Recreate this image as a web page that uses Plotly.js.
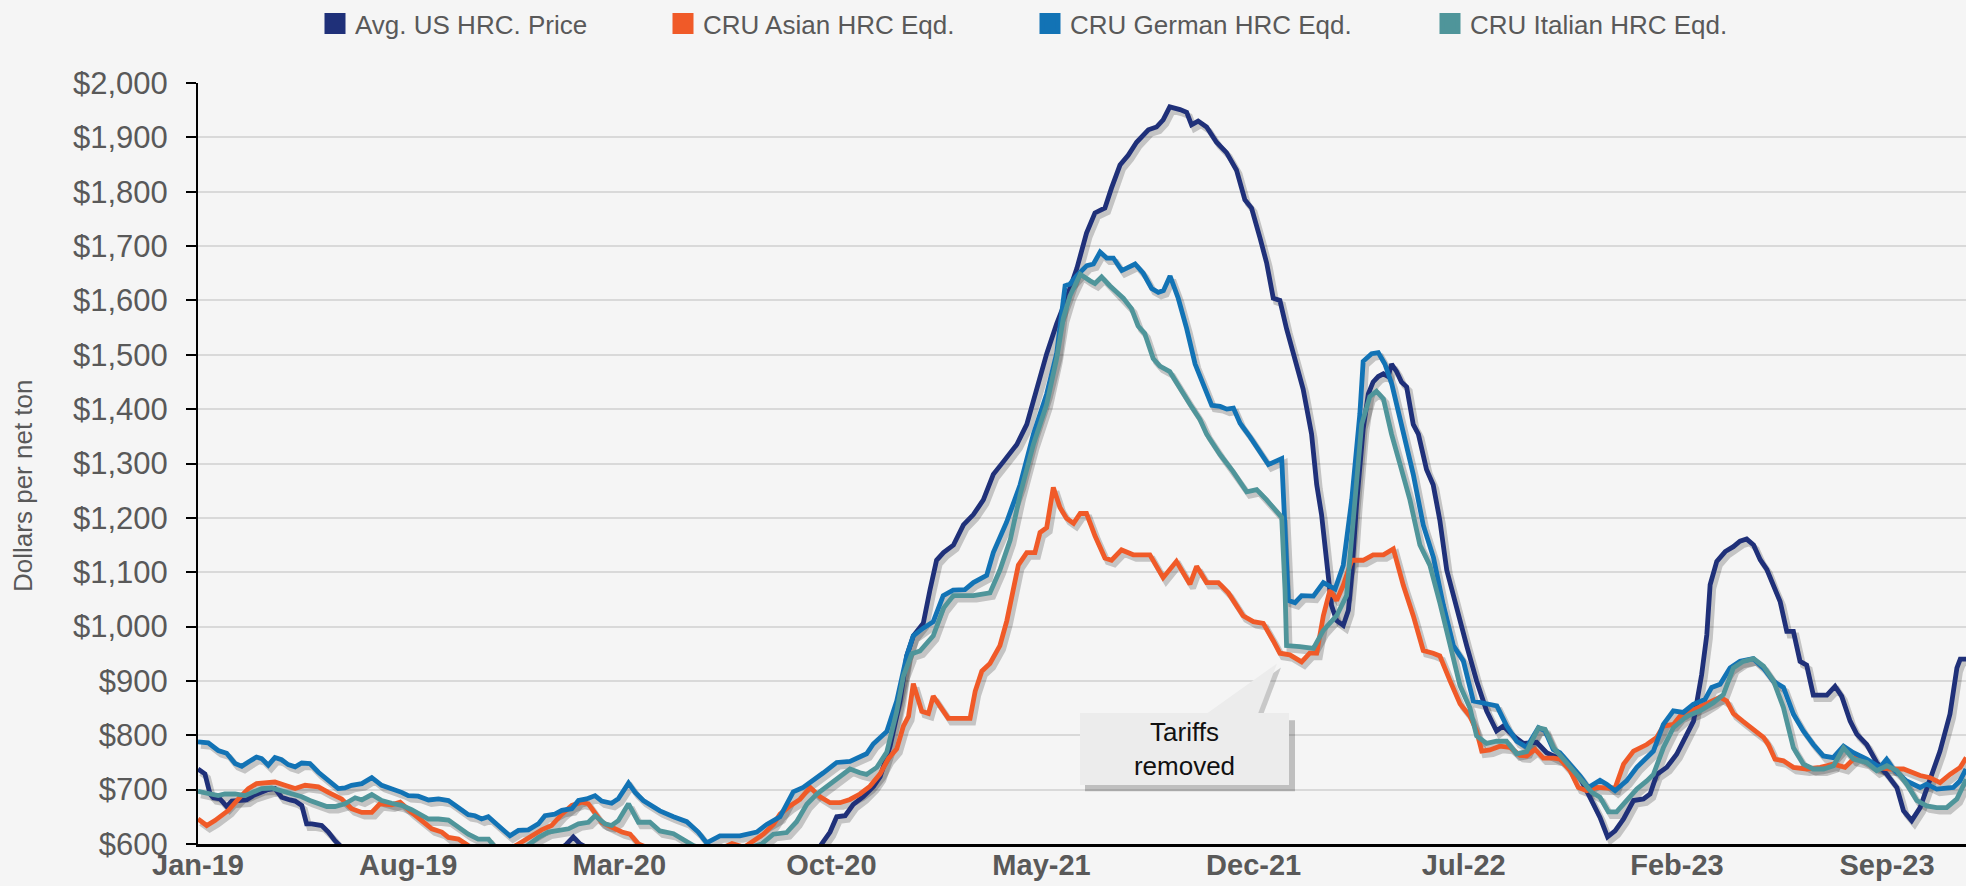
<!DOCTYPE html>
<html>
<head>
<meta charset="utf-8">
<script src="https://cdn.plot.ly/plotly-3.0.1.min.js"></script>
<style>
html,body{margin:0;padding:0;background:#f5f5f5;}
#chart{width:1966px;height:886px;}
</style>
</head>
<body>
<div id="chart"></div>
<script>
// ---------------- DATA (x = months since Jan-2019, y = $ per net ton) ----------------
const seriesNames = ["Avg. US HRC. Price", "CRU Asian HRC Eqd.", "CRU German HRC Eqd.", "CRU Italian HRC Eqd."];
const seriesColors = ["#1f3079", "#f05a28", "#1273b5", "#4f959a"];

const tickDates  = ["2019-01-01","2019-08-01","2020-03-01","2020-10-01","2021-05-01","2021-12-01","2022-07-01","2023-02-01","2023-09-01"];
const tickLabels = ["Jan-19","Aug-19","Mar-20","Oct-20","May-21","Dec-21","Jul-22","Feb-23","Sep-23"];

const usMonths = [0,0.23,0.40,0.51,0.73,0.95,1.12,1.39,1.61,1.83,2.11,2.33,2.55,2.77,3.05,3.22,3.44,3.60,3.77,4.10,4.32,4.54,4.76,5.2,5.8,6.5,7.5,8.5,9.5,10.5,11.2,11.8,12.22,12.44,12.66,13.2,14,15,16,17,18,19,20,20.62,20.95,21.17,21.45,21.72,22.05,22.39,22.61,22.94,23.27,23.49,23.71,24.04,24.26,24.48,24.71,25.04,25.37,25.70,26.03,26.36,26.69,27.14,27.47,27.80,28.13,28.46,28.79,29.13,29.45,29.73,30.06,30.28,30.56,30.83,31.11,31.50,31.77,31.99,32.21,32.55,32.77,32.93,33.15,33.43,33.76,34.09,34.42,34.70,34.92,35.20,35.42,35.64,35.86,36.08,36.36,36.63,36.91,37.08,37.24,37.41,37.57,37.74,37.96,38.13,38.24,38.40,38.62,38.79,38.95,39.12,39.29,39.45,39.56,39.73,39.89,40.06,40.28,40.45,40.72,40.94,41.16,41.39,41.72,42.05,42.38,42.71,43.04,43.26,43.60,43.93,44.37,44.70,45.15,45.48,45.81,46.14,46.47,46.72,46.97,47.25,47.58,47.91,48.13,48.35,48.68,49.01,49.35,49.57,49.84,50.01,50.12,50.34,50.62,50.89,51.11,51.33,51.56,51.78,52.00,52.22,52.44,52.66,52.88,53.10,53.32,53.54,53.77,53.99,54.26,54.48,54.76,54.98,55.31,55.64,55.98,56.31,56.53,56.80,57.08,57.41,57.74,58.07,58.30,58.41,58.61];
const usPrice = [738,729,692,685,683,669,679,681,681,689,695,700,702,686,681,679,671,637,637,634,622,606,594,575,555,540,525,510,505,510,545,580,600,613,600,585,565,535,495,470,455,470,530,596,622,650,652,673,687,706,724,780,863,946,983,1006,1067,1122,1136,1150,1187,1206,1233,1280,1303,1335,1372,1437,1502,1557,1604,1659,1724,1761,1770,1807,1849,1867,1891,1914,1919,1932,1956,1951,1946,1923,1930,1919,1891,1872,1840,1785,1770,1715,1669,1604,1600,1548,1493,1437,1354,1261,1206,1122,1039,1011,1002,1030,1094,1224,1363,1428,1450,1460,1465,1460,1483,1469,1450,1441,1372,1354,1289,1261,1196,1104,1030,965,900,845,808,817,799,785,787,768,756,744,722,686,649,613,624,646,680,683,692,728,741,765,805,826,912,985,1077,1120,1138,1147,1157,1161,1150,1123,1105,1074,1046,991,991,936,929,874,873,874,890,872,826,802,783,750,728,704,661,643,667,716,771,839,924,940,940];

const asiaMonths = [0,0.29,0.56,1.01,1.34,1.67,1.94,2.22,2.55,2.88,3.22,3.55,3.99,4.32,4.76,5.09,5.43,5.76,6.03,6.42,6.70,7.08,7.42,7.75,8.08,8.30,8.63,8.96,9.4,10.0,10.62,10.95,11.39,11.72,12.06,12.39,12.72,12.94,13.16,13.38,13.71,14.05,14.32,14.60,15.5,16.5,17.2,17.7,18.1,18.74,19.07,19.29,19.62,19.95,20.29,20.62,20.95,21.28,21.61,21.94,22.27,22.61,22.88,23.16,23.38,23.55,23.71,23.99,24.21,24.37,24.65,24.87,25.26,25.59,25.76,25.98,26.25,26.58,26.81,27.03,27.19,27.47,27.74,27.91,28.13,28.35,28.57,28.79,29.02,29.24,29.45,29.73,30.06,30.28,30.61,31.00,31.55,31.99,32.43,32.88,33.10,33.43,33.82,34.15,34.64,34.98,35.31,35.64,35.86,36.19,36.58,36.85,37.08,37.30,37.52,37.74,37.96,38.24,38.62,38.95,39.29,39.62,39.95,40.28,40.61,40.94,41.16,41.50,41.83,42.16,42.38,42.55,42.82,43.15,43.48,43.82,44.04,44.32,44.59,44.93,45.15,45.48,45.75,46.03,46.36,46.69,46.97,47.25,47.58,48.02,48.35,48.57,48.90,49.12,49.57,50.01,50.45,50.67,50.89,51.22,51.56,51.89,52.05,52.27,52.55,52.88,53.32,53.77,54.21,54.59,54.98,55.31,55.64,56.09,56.53,57.08,57.41,57.74,58.07,58.41,58.61];
const asiaPrice = [646,634,643,662,683,702,711,712,714,708,702,708,705,695,683,665,658,658,674,672,677,658,643,628,622,612,609,597,585,580,600,612,626,634,655,671,677,674,655,640,631,622,618,600,580,570,588,601,594,618,636,655,670,682,704,687,676,676,682,692,706,729,757,775,817,835,895,844,840,872,849,831,831,831,881,918,932,965,1011,1076,1113,1136,1136,1173,1182,1256,1219,1199,1190,1208,1208,1167,1126,1122,1141,1132,1132,1090,1120,1078,1111,1081,1081,1062,1020,1009,1006,974,951,948,935,951,951,1020,1067,1048,1076,1122,1122,1132,1132,1143,1076,1020,956,951,946,900,858,835,808,771,773,780,778,763,762,774,758,758,756,735,704,698,704,703,703,747,771,783,796,817,820,835,847,860,870,863,840,825,810,796,783,756,753,741,738,741,747,741,762,753,741,738,738,726,722,713,728,741,759];

const germanMonths = [0,0.34,0.67,0.95,1.23,1.45,1.67,1.94,2.11,2.33,2.55,2.77,2.99,3.22,3.44,3.71,3.99,4.32,4.65,4.87,5.09,5.43,5.76,6.09,6.42,6.75,6.97,7.30,7.64,7.97,8.30,8.63,8.96,9.18,9.40,9.62,9.85,10.07,10.34,10.62,10.95,11.28,11.50,11.83,12.06,12.39,12.61,12.88,13.16,13.38,13.71,13.93,14.27,14.49,14.76,14.98,15.31,15.76,16.20,16.58,16.86,17.30,17.96,18.52,18.85,19.29,19.73,20.06,20.40,20.73,21.17,21.61,22.16,22.38,22.83,23.16,23.49,23.71,24.04,24.37,24.70,25.03,25.42,25.70,26.14,26.36,26.80,27.25,27.69,28.13,28.46,28.74,28.90,29.12,29.46,29.68,29.90,30.12,30.34,30.62,31.06,31.33,31.61,31.83,32.00,32.22,32.49,32.77,33.05,33.32,33.60,33.88,34.10,34.32,34.54,34.87,35.20,35.48,35.92,36.03,36.14,36.36,36.58,36.97,37.30,37.69,37.96,38.24,38.51,38.62,38.90,39.12,39.34,39.57,39.90,40.28,40.61,40.95,41.28,41.61,41.94,42.27,42.71,43.05,43.38,43.71,44.04,44.43,44.65,44.92,45.14,45.48,45.81,46.08,46.47,46.69,46.97,47.35,47.69,48.24,48.57,48.90,49.23,49.56,49.95,50.17,50.45,50.78,51.11,51.55,51.88,52.21,52.55,52.88,53.21,53.54,53.87,54.20,54.54,54.87,55.31,55.75,55.97,56.19,56.63,57.08,57.30,57.63,58.18,58.40,58.60];
const germanPrice = [788,786,772,767,748,743,751,760,757,745,759,755,746,742,749,748,732,717,702,703,708,711,722,708,702,695,689,688,681,683,680,668,654,652,646,650,640,628,615,625,626,637,652,655,662,665,680,683,689,679,675,683,712,695,680,672,661,650,641,622,602,615,615,622,636,650,696,704,719,731,750,752,766,784,807,863,946,983,997,1009,1057,1067,1068,1081,1094,1136,1192,1261,1354,1428,1502,1627,1630,1645,1664,1667,1689,1678,1678,1655,1667,1650,1622,1615,1618,1645,1604,1548,1483,1446,1407,1405,1400,1402,1374,1349,1321,1298,1309,1159,1048,1044,1057,1056,1081,1069,1113,1233,1391,1488,1502,1504,1483,1446,1372,1280,1187,1127,1039,965,937,863,858,854,817,789,778,814,808,774,768,747,725,704,717,710,698,716,741,771,820,845,842,857,866,888,894,924,936,941,924,900,888,839,808,783,762,759,780,768,756,741,756,738,716,704,710,701,704,716,738];

const italyMonths = [0,0.34,0.67,0.89,1.23,1.56,1.83,2.11,2.44,2.77,3.10,3.44,3.71,3.99,4.27,4.54,4.87,5.21,5.43,5.76,6.09,6.42,6.75,7.08,7.42,7.64,7.97,8.30,8.63,8.96,9.29,9.63,9.85,10.3,10.8,11.28,11.61,11.94,12.28,12.61,12.94,13.16,13.49,13.71,13.93,14.27,14.60,14.98,15.31,15.76,16.20,16.42,16.8,17.5,18.2,18.68,19.07,19.51,19.84,20.18,20.51,20.84,21.28,21.61,21.94,22.16,22.50,22.83,23.16,23.38,23.66,23.93,24.37,24.71,25.04,25.42,25.70,26.25,26.58,26.92,27.25,27.69,28.13,28.46,28.68,28.90,29.24,29.57,29.73,29.95,30.22,30.67,30.94,31.16,31.38,31.66,31.88,32.21,32.55,32.88,33.21,33.43,33.87,34.31,34.76,35.09,35.42,35.92,36.03,36.08,36.52,36.97,37.30,37.74,38.07,38.29,38.57,38.84,39.06,39.29,39.56,39.84,40.17,40.50,40.83,41.16,41.50,41.83,42.16,42.38,42.71,43.04,43.37,43.71,44.04,44.43,44.65,44.93,45.26,45.59,45.92,46.20,46.47,46.75,47.02,47.36,47.69,48.02,48.24,48.57,48.90,49.35,49.79,50.23,50.56,50.89,51.22,51.56,51.89,52.22,52.55,52.88,53.21,53.54,53.88,54.21,54.54,54.87,55.31,55.64,55.98,56.31,56.64,56.97,57.30,57.63,57.96,58.30,58.61];
const italyPrice = [697,694,689,692,692,689,695,702,703,698,692,687,680,674,669,669,674,685,681,691,680,675,671,663,654,646,646,644,631,618,609,609,594,585,592,612,622,625,628,637,640,652,637,634,643,674,640,640,624,619,606,597,590,585,592,600,618,621,641,673,692,706,724,738,731,728,741,769,844,909,950,955,983,1034,1057,1056,1057,1062,1104,1159,1243,1335,1409,1493,1567,1608,1648,1636,1631,1643,1627,1604,1585,1553,1539,1493,1479,1469,1437,1409,1381,1354,1317,1285,1248,1252,1233,1201,1067,965,963,960,993,1020,1057,1206,1372,1423,1433,1419,1354,1299,1233,1150,1113,1044,965,891,850,799,785,789,789,766,770,814,811,777,756,735,716,695,686,659,659,680,701,716,728,777,814,835,845,860,875,924,936,941,927,900,851,777,747,738,738,744,777,756,750,735,744,735,710,680,670,667,667,683,719];

const annotationText = "Tariffs<br>removed";
const yTitleText = "Dollars per net ton";

// ---------------- helpers ----------------
const W = 1966, H = 886;
const M = {l: 198, r: 0, t: 81, b: 42};
const plotW = W - M.l - M.r, plotH = H - M.t - M.b;
const T0 = Date.UTC(2019, 0, 1);
const MONTH_MS = 30.4375 * 86400000;
const X_END = Date.UTC(2023, 10, 19, 16);
const Y_MIN = 600, Y_MAX = 2000;

function pad(n){ return String(n).padStart(2, '0'); }
function ms2str(ms){
  const d = new Date(ms);
  return d.getUTCFullYear() + '-' + pad(d.getUTCMonth()+1) + '-' + pad(d.getUTCDate()) + ' ' +
         pad(d.getUTCHours()) + ':' + pad(d.getUTCMinutes()) + ':' + pad(d.getUTCSeconds());
}
function monthsToDates(arr){ return arr.map(m => ms2str(T0 + m * MONTH_MS)); }
function px2x(px){ return (px - M.l) / plotW; }
function py2y(py){ return (M.t + plotH - py) / plotH; }

// shadow offset (pixels) applied through a shifted, hidden axis pair
const SH_DX = 3, SH_DY = 4;
const msPerPx = (X_END - T0) / plotW;
const valPerPx = (Y_MAX - Y_MIN) / plotH;

const series = [
  {x: usMonths, y: usPrice},
  {x: asiaMonths, y: asiaPrice},
  {x: germanMonths, y: germanPrice},
  {x: italyMonths, y: italyPrice}
];

const FONT = 'Arial, "Liberation Sans", Helvetica, sans-serif';
const traces = [];
// shadows (bottom subplot, hidden shifted axes)
series.forEach((s, i) => {
  traces.push({
    type: 'scatter', mode: 'lines', x: monthsToDates(s.x), y: s.y,
    xaxis: 'x', yaxis: 'y', showlegend: false, hoverinfo: 'skip',
    line: {color: 'rgba(0,0,0,0.20)', width: 6}
  });
});
// real lines (overlay subplot with visible axes)
series.forEach((s, i) => {
  traces.push({
    type: 'scatter', mode: 'lines', x: monthsToDates(s.x), y: s.y,
    xaxis: 'x2', yaxis: 'y2', name: seriesNames[i], showlegend: false,
    line: {color: seriesColors[i], width: 4.8}
  });
});
// legend entries
const legendKeys = ['legend', 'legend2', 'legend3', 'legend4'];
seriesNames.forEach((n, i) => {
  traces.push({
    type: 'scatter', mode: 'markers', x: [null], y: [null], xaxis: 'x2', yaxis: 'y2',
    name: n, legend: legendKeys[i], showlegend: true,
    marker: {symbol: 'square', size: 16, color: seriesColors[i], line: {color: seriesColors[i], width: 5}}
  });
});

const legendTextLeft = [355, 703, 1070, 1470];
function legendCfg(i){
  return {
    x: px2x(legendTextLeft[i] - 40), xanchor: 'left', y: py2y(21), yanchor: 'middle',
    orientation: 'h', bgcolor: 'rgba(0,0,0,0)', borderwidth: 0,
    font: {family: FONT, size: 26, color: '#595959'}
  };
}

const layout = {
  width: W, height: H, margin: M,
  paper_bgcolor: '#f5f5f5', plot_bgcolor: '#f5f5f5',
  font: {family: FONT, color: '#595959'},
  xaxis: {type: 'date', range: [ms2str(T0 - SH_DX * msPerPx), ms2str(X_END - SH_DX * msPerPx)], visible: false, fixedrange: true},
  yaxis: {range: [Y_MIN + SH_DY * valPerPx, Y_MAX + SH_DY * valPerPx], visible: false, fixedrange: true},
  xaxis2: {
    type: 'date', overlaying: 'x', anchor: 'y2', side: 'bottom',
    range: [ms2str(T0), ms2str(X_END)],
    tickmode: 'array', tickvals: tickDates, ticktext: tickLabels,
    tickfont: {family: FONT, size: 29, color: '#595959', weight: 'bold'},
    ticks: '', showgrid: false, zeroline: false,
    showline: true, linecolor: '#000000', linewidth: 3, ticklabelstandoff: -7
  },
  yaxis2: {
    overlaying: 'y', anchor: 'x2', side: 'left',
    range: [Y_MIN, Y_MAX], tick0: 600, dtick: 100,
    tickprefix: '$', tickformat: ',d',
    tickfont: {family: FONT, size: 31, color: '#595959'},
    ticks: 'outside', ticklen: 10, tickwidth: 2, tickcolor: '#000000',
    showline: true, linecolor: '#000000', linewidth: 2,
    showgrid: true, gridcolor: '#d9d9d9', gridwidth: 2, zeroline: false,
    ticklabelstandoff: 12
  },
  legend: legendCfg(0), legend2: legendCfg(1), legend3: legendCfg(2), legend4: legendCfg(3),
  shapes: [
    {type: 'rect', xref: 'paper', yref: 'paper', layer: 'above',
     x0: px2x(1085), x1: px2x(1295), y0: py2y(791), y1: py2y(720),
     fillcolor: 'rgba(0,0,0,0.22)', line: {width: 0}},
    {type: 'path', xref: 'paper', yref: 'paper', layer: 'above',
     path: `M${px2x(1207)},${py2y(720)} L${px2x(1281)},${py2y(667)} L${px2x(1261)},${py2y(720)} Z`,
     fillcolor: 'rgba(0,0,0,0.18)', line: {width: 0}},
    {type: 'path', xref: 'paper', yref: 'paper', layer: 'above',
     path: `M${px2x(1203)},${py2y(716)} L${px2x(1277)},${py2y(663)} L${px2x(1257)},${py2y(716)} Z`,
     fillcolor: '#ececec', line: {width: 0}}
  ],
  annotations: [
    {xref: 'paper', yref: 'paper', x: px2x(23), y: py2y(485), text: yTitleText, textangle: -90,
     showarrow: false, xanchor: 'center', yanchor: 'middle',
     font: {family: FONT, size: 26, color: '#595959'}},
    {xref: 'paper', yref: 'paper', x: px2x(1184.5), y: py2y(749), text: annotationText,
     showarrow: false, xanchor: 'center', yanchor: 'middle', width: 209, height: 72,
     bgcolor: '#ececec', borderpad: 0, borderwidth: 0, align: 'center',
     font: {family: FONT, size: 26, color: '#111111'}}
  ]
};

Plotly.newPlot('chart', traces, layout, {staticPlot: true, displayModeBar: false});
</script>
</body>
</html>
